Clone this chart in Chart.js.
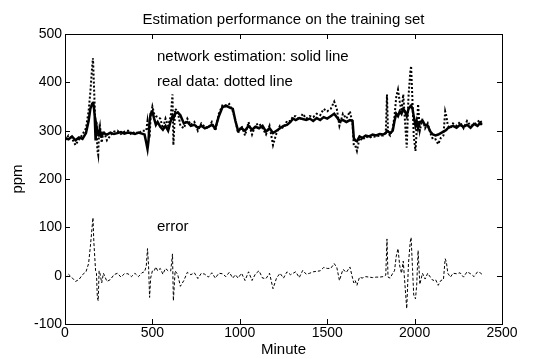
<!DOCTYPE html>
<html>
<head>
<meta charset="utf-8">
<script src="https://cdn.jsdelivr.net/npm/chart.js@4"></script>
<style>
html,body{margin:0;padding:0;background:#fff;}
canvas{display:block;}
</style>
</head>
<body>
<canvas id="c" width="541" height="359"></canvas>
<script>
const minutes = [0,20,40,60,80,100,120,135,145,155,160,165,170,175,180,185,190,195,200,210,220,240,260,280,300,320,340,360,380,400,420,440,455,465,472,478,484,490,500,510,520,530,545,560,575,590,605,615,620,630,645,660,680,700,720,740,760,780,800,820,840,860,880,900,920,940,960,975,990,1010,1030,1050,1070,1090,1110,1130,1150,1170,1190,1210,1230,1250,1270,1290,1305,1320,1340,1360,1380,1400,1420,1440,1460,1480,1500,1520,1540,1555,1570,1590,1610,1630,1645,1652,1660,1670,1685,1700,1720,1740,1760,1780,1800,1820,1835,1842,1848,1860,1875,1885,1895,1905,1915,1925,1935,1945,1955,1965,1975,1980,1988,1995,2005,2012,2020,2030,2045,2060,2075,2090,2105,2120,2135,2150,2165,2175,2182,2190,2205,2220,2240,2260,2280,2300,2320,2340,2360,2375,2385];
const estimation = [285,282,288,280,286,283,295,320,345,355,360,350,330,280,310,300,295,290,300,290,295,292,296,293,295,297,294,296,295,293,296,294,292,275,262,280,320,335,340,325,312,318,308,302,310,300,320,330,325,335,338,332,315,318,310,312,306,310,305,308,312,305,330,348,352,348,345,320,300,305,300,310,302,308,305,310,298,305,295,300,305,310,312,318,325,322,326,324,322,325,320,326,322,328,325,330,335,328,320,322,318,322,320,285,280,278,288,285,290,288,292,290,293,292,295,300,298,295,300,320,335,330,340,335,345,340,330,345,350,352,345,330,310,320,305,318,320,312,310,298,292,290,292,295,298,300,302,305,308,310,306,312,308,312,306,314,310,316,312];
const realData = [280,290,284,270,282,292,305,340,380,430,450,400,350,300,320,260,250,300,310,275,300,280,290,298,300,293,298,300,292,298,294,300,300,300,320,300,285,330,350,335,330,328,325,305,325,310,330,375,270,345,340,310,305,325,312,318,300,315,308,305,318,300,335,352,350,355,340,322,295,310,290,318,292,312,315,305,292,310,270,295,310,305,320,320,330,330,322,335,325,330,328,335,332,345,340,345,360,345,310,335,325,340,315,270,270,258,285,280,288,285,288,287,290,290,296,375,295,290,305,330,370,385,360,340,375,320,265,370,420,434,360,290,258,300,355,300,325,305,315,295,282,282,272,285,290,340,330,310,305,315,310,318,305,320,310,312,318,322,315];
const errorData = [-5,3,-4,-12,-8,2,8,25,60,100,120,70,40,10,5,-45,-52,10,5,-15,5,-12,-8,2,5,-3,4,4,-2,5,-2,6,8,20,56,20,-45,-5,10,10,18,10,15,3,15,10,10,45,-52,10,2,-22,-10,7,2,6,-6,5,3,-3,6,-5,5,4,-2,7,-5,2,-5,5,-10,8,-10,4,10,-5,-6,5,-27,-5,5,-5,8,2,5,8,-4,11,3,5,8,9,10,17,15,15,25,17,-10,13,7,18,-5,-15,-10,-20,-3,-5,-2,-3,-4,-3,-3,-2,1,76,-3,-5,5,10,40,56,20,5,30,-20,-68,25,70,79,15,-40,-48,-20,52,-18,5,-7,5,-3,-10,-8,-20,-10,-8,35,28,5,-3,5,4,6,-3,8,4,-2,8,6,3];
const xTicks = [0,500,1000,1500,2000,2500];
const yTicks = [-100,0,100,200,300,400,500];
const titleText = 'Estimation performance on the training set';
const xLabel = 'Minute';
const yLabel = 'ppm';
const notes = [
  {text:'network estimation: solid line', x:526, y:452},
  {text:'real data: dotted line', x:526, y:400},
  {text:'error', x:526, y:100}
];

const FONT = '"Liberation Sans", Arial, sans-serif';
const pts = arr => minutes.map((m,i)=>({x:m,y:arr[i]}));

const framePlugin = {
  id:'frame',
  afterDraw(chart){
    const {ctx, chartArea:a, scales:{x,y}} = chart;
    ctx.save();
    ctx.strokeStyle='#000';
    ctx.lineWidth=1;
    ctx.strokeRect(a.left+0.5, a.top+0.5, a.right-a.left, a.bottom-a.top);
    const tl=5;
    ctx.beginPath();
    xTicks.forEach(v=>{
      const px=Math.round(x.getPixelForValue(v))+0.5;
      ctx.moveTo(px,a.bottom); ctx.lineTo(px,a.bottom-tl);
      ctx.moveTo(px,a.top); ctx.lineTo(px,a.top+tl);
    });
    yTicks.forEach(v=>{
      const py=Math.round(y.getPixelForValue(v))+0.5;
      ctx.moveTo(a.left,py); ctx.lineTo(a.left+tl,py);
      ctx.moveTo(a.right,py); ctx.lineTo(a.right-tl,py);
    });
    ctx.stroke();
    ctx.fillStyle='#000';
    ctx.font='15px '+FONT;
    ctx.textBaseline='middle';
    ctx.textAlign='left';
    notes.forEach(n=>{
      ctx.fillText(n.text, x.getPixelForValue(n.x), y.getPixelForValue(n.y));
    });
    ctx.textAlign='center';
    ctx.fillText(titleText,(a.left+a.right)/2,20);
    ctx.fillText(xLabel,(a.left+a.right)/2,350);
    ctx.translate(18,(a.top+a.bottom)/2);
    ctx.rotate(-Math.PI/2);
    ctx.fillText(yLabel,0,0);
    ctx.restore();
  }
};

new Chart(document.getElementById('c'),{
  type:'line',
  data:{
    datasets:[
      {label:'network estimation', data:pts(estimation), borderColor:'#000', borderWidth:2.5, pointRadius:0, tension:0, fill:false},
      {label:'real data', data:pts(realData), borderColor:'#000', borderWidth:2, borderDash:[2,2], pointRadius:0, tension:0, fill:false},
      {label:'error', data:pts(errorData), borderColor:'#000', borderWidth:1, borderDash:[3,2], pointRadius:0, tension:0, fill:false}
    ]
  },
  options:{
    responsive:false,
    animation:false,
    layout:{padding:{top:34,right:39,left:0,bottom:0}},
    plugins:{legend:{display:false},title:{display:false},tooltip:{enabled:false}},
    scales:{
      x:{type:'linear',min:0,max:2500,
        afterBuildTicks(s){s.ticks=xTicks.map(v=>({value:v}));},
        ticks:{color:'#000',font:{size:14,family:FONT},padding:1,maxRotation:0,autoSkip:false,callback:v=>String(v)},
        grid:{display:false,drawTicks:false},border:{display:false},
        afterFit(s){s.height=35;}},
      y:{type:'linear',min:-100,max:500,
        afterBuildTicks(s){s.ticks=yTicks.map(v=>({value:v}));},
        ticks:{color:'#000',font:{size:14,family:FONT},padding:3,autoSkip:false,callback:v=>String(v)},
        grid:{display:false,drawTicks:false},border:{display:false},
        afterFit(s){s.width=65;}}
    }
  },
  plugins:[framePlugin]
});
</script>
</body>
</html>
